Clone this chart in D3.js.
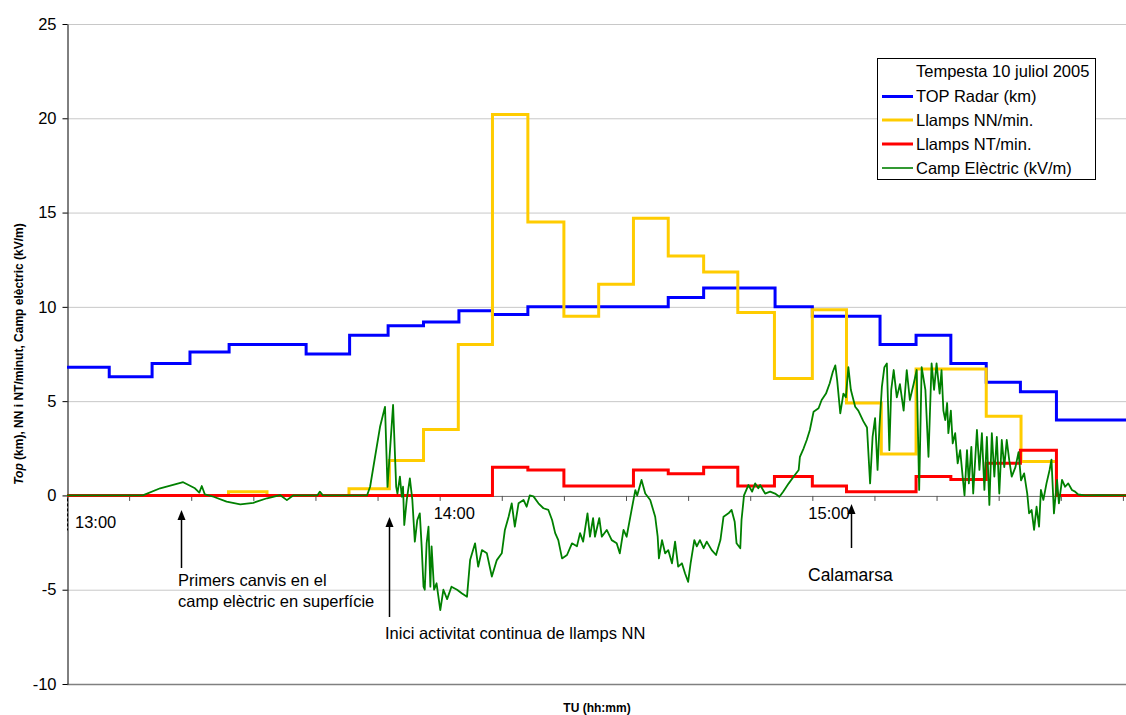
<!DOCTYPE html>
<html><head><meta charset="utf-8">
<script src="https://cdn.jsdelivr.net/npm/d3@7"></script>
<style>
body{margin:0;background:#fff}
text{font-family:"Liberation Sans",Arial,sans-serif}
</style></head>
<body><svg id="c" width="1126" height="715"></svg>
<script>
// ---- DATA (time in minutes after 13:00 TU) ----
const yTicks = [-10,-5,0,5,10,15,20,25];
const minuteTicks = [0,10,20,30,40,50,60,70,80,90,100,110,120,130,140,150,160,170];
const hourTimes = [0,60,120];
const hourLabels = ["13:00","14:00","15:00"];

const radarTime = [0,6.8,13.7,19.8,26.1,38.5,45.5,51.7,57.4,63.1,68.5,74.2,96.8,102.5,114.0,120.0,130.9,136.7,142.3,148.0,153.5,159.3,170.5];
const radarTop  = [6.8,6.3,7.0,7.6,8.0,7.5,8.5,9.0,9.2,9.8,9.6,10.0,10.5,11.0,10.0,9.5,8.0,8.5,7.0,6.0,5.5,4.0,4.0];

const nnTime = [0,26.0,32.2,45.4,51.9,57.4,63.0,68.5,74.2,80.0,85.6,91.2,96.8,102.5,108.0,113.9,120.0,125.5,131.1,136.7,148.0,153.6,159.3,170.5];
const nnRate = [0,0.2,0,0.35,1.85,3.5,8.0,20.2,14.5,9.5,11.2,14.7,12.7,11.85,9.7,6.2,9.85,4.9,2.2,6.7,4.2,1.8,0,0];

const ntTime = [0,68.5,74.2,80.0,91.2,96.8,102.5,108.0,113.9,120.0,125.5,136.7,142.3,148.0,153.5,159.3,170.5];
const ntRate = [0,1.5,1.35,0.5,1.35,1.15,1.5,0.5,1.0,0.5,0.2,1.0,0.85,1.7,2.4,0,0];

const fieldSamples = [[0,0],[12.2,0],[15.0,0.38],[18.7,0.7],[20.6,0.38],[21.3,0.15],[21.7,0.5],[22.2,0.05],[23.6,-0.07],[25.7,-0.33],[27.9,-0.47],[30.0,-0.39],[32.2,-0.15],[34.3,0.02],[35.4,-0.25],[36.4,0],[40.3,0],[40.7,0.2],[41.2,0],[48.3,0],[48.8,0.46],[49.6,2.05],[50.4,3.64],[51.2,4.7],[51.6,0.45],[52.5,4.8],[53.0,0.45],[53.2,0.1],[53.6,1.0],[53.9,-0.07],[54.1,0.46],[54.3,-1.57],[54.7,-0.24],[55.2,0.9],[55.6,-0.24],[56.0,-2.45],[56.4,-1.3],[56.8,-0.95],[57.1,-2.7],[57.4,-4.84],[57.6,-5.0],[57.9,-2.54],[58.2,-1.66],[58.5,-4.84],[58.7,-2.7],[59.1,-5.0],[59.5,-4.66],[60.1,-6.08],[60.6,-5.0],[61.2,-5.5],[61.9,-4.84],[62.8,-5.0],[63.6,-5.2],[64.4,-5.37],[64.9,-3.43],[65.7,-2.54],[66.2,-3.78],[66.8,-2.9],[67.6,-3.07],[68.4,-4.3],[69.2,-3.43],[70.0,-3.07],[70.5,-1.83],[71.1,-1.13],[71.6,-0.42],[72.1,-1.66],[72.7,-0.42],[73.5,-0.24],[74.0,-0.6],[74.5,0],[75.1,-0.05],[75.9,-0.42],[76.7,-0.68],[77.5,-0.77],[78.1,-1.3],[78.6,-2.0],[79.1,-2.37],[79.7,-3.34],[80.5,-3.16],[81.3,-2.54],[82.1,-2.7],[82.6,-2.0],[83.1,-2.45],[83.8,-0.95],[84.2,-2.19],[84.7,-1.2],[85.0,-2.19],[85.7,-1.2],[86.1,-2.19],[86.9,-1.83],[87.7,-2.37],[88.5,-2.54],[89.0,-3.07],[89.6,-1.83],[90.1,-2.19],[90.9,-0.77],[91.5,0.28],[91.8,0],[92.5,0.82],[93.1,0.1],[93.9,-0.24],[94.7,-1.13],[95.1,-2.19],[95.3,-3.34],[95.8,-2.37],[96.3,-3.07],[96.8,-2.9],[97.4,-3.6],[97.9,-2.45],[98.4,-3.78],[99.0,-3.6],[99.5,-4.13],[100.0,-4.58],[100.4,-3.6],[101.0,-2.37],[101.4,-2.7],[101.9,-2.37],[102.5,-2.8],[103.0,-2.45],[103.8,-2.9],[104.5,-3.16],[105.2,-2.37],[105.7,-1.13],[106.5,-0.95],[107.0,-0.77],[107.5,-1.4],[107.8,-2.54],[108.4,-2.8],[108.6,-1.3],[109.0,0],[109.7,0.55],[110.3,0.2],[110.8,0.64],[111.3,0.38],[111.6,0.55],[112.4,0.1],[113.2,0.2],[114.0,0.1],[114.7,-0.07],[115.3,0.2],[116.2,0.64],[117.0,1.0],[117.8,1.35],[118.0,2.05],[118.6,2.5],[119.1,2.94],[119.6,3.47],[120.2,4.44],[121.0,4.62],[121.5,5.06],[122.2,5.4],[122.8,5.95],[123.3,6.56],[123.7,6.9],[124.0,6.1],[124.5,4.35],[125.0,5.4],[125.4,5.2],[125.8,6.8],[126.2,5.6],[126.9,4.7],[127.4,4.5],[128.2,3.94],[128.8,3.6],[129.3,0.64],[129.7,3.1],[130.1,4.1],[130.5,1.35],[130.8,3.6],[131.2,5.77],[131.6,6.8],[132.0,7.0],[132.4,2.4],[132.7,5.6],[133.1,6.65],[133.6,5.2],[134.1,5.9],[134.7,4.5],[135.2,6.65],[135.7,5.06],[136.3,5.9],[136.8,6.65],[137.2,0.29],[137.6,6.8],[138.2,5.6],[138.7,2.05],[139.2,7.0],[139.6,5.6],[140.0,7.0],[140.5,5.4],[140.8,6.65],[141.1,4.5],[141.4,4.0],[141.7,4.9],[141.9,3.3],[142.3,4.5],[142.6,2.76],[143.0,3.3],[143.4,1.7],[143.8,2.4],[144.2,1.0],[144.5,0],[144.9,2.4],[145.2,0.64],[145.6,2.58],[145.9,0.1],[146.5,3.47],[146.9,1.35],[147.3,3.3],[147.7,0.29],[148.1,3.1],[148.5,-0.5],[148.9,3.3],[149.3,1.0],[149.7,3.1],[150.1,0.1],[150.5,2.94],[150.9,1.5],[151.3,2.94],[151.7,1.87],[152.1,1.0],[152.7,1.5],[153.2,2.3],[153.6,0.8],[154.1,1.17],[154.6,0.1],[154.9,-0.95],[155.3,-0.77],[155.7,-1.83],[156.1,-0.6],[156.5,-1.66],[156.8,0.29],[157.2,-0.24],[157.7,0.64],[158.2,1.35],[158.5,1.9],[158.9,-0.95],[159.4,0.82],[159.7,-0.42],[160.2,0.82],[160.7,0.46],[161.2,0.64],[161.8,0.29],[162.3,0.2],[162.8,0.05],[163.9,0],[166.3,0.02],[170.5,0]];

const legendTitle = "Tempesta 10 juliol 2005";
const seriesNames = ["TOP Radar (km)","Llamps NN/min.","Llamps NT/min.","Camp Elèctric (kV/m)"];
const annotTimes = [18.3, 51.9, 126.2];
const annotTexts = [["Primers canvis en el","camp elèctric en superfície"],["Inici activitat continua de llamps NN"],["Calamarsa"]];

// ---- CHART ----
const FS = 16.5;
const svg = d3.select("#c");
svg.append("rect").attr("width",1126).attr("height",715).attr("fill","#fff");
const x = d3.scaleLinear().domain([0,170.5]).range([67,1126]);
const y = d3.scaleLinear().domain([-10,25]).range([684,24]);

// gridlines
svg.append("g").selectAll("line").data(yTicks.filter(v=>v!==0 && v!==-10)).join("line")
  .attr("x1",67).attr("x2",1126).attr("y1",d=>y(d)+0.5).attr("y2",d=>y(d)+0.5)
  .attr("stroke","#c8c8c8").attr("stroke-width",1);
svg.append("line").attr("x1",67).attr("x2",1126).attr("y1",y(-10)+0.5).attr("y2",y(-10)+0.5)
  .attr("stroke","#808080").attr("stroke-width",1.5);

// y axis
const ya = svg.append("g").attr("transform","translate(67.5,0)")
  .call(d3.axisLeft(y).tickValues(yTicks).tickSize(5).tickSizeOuter(0).tickPadding(6).tickFormat(d=>String(d)));
ya.select(".domain").attr("stroke","#000");
ya.selectAll(".tick line").attr("stroke","#000");
ya.selectAll(".tick text").attr("font-size",FS).attr("fill","#000").attr("font-family","Liberation Sans, Arial, sans-serif");

// x axis at 0
const xa = svg.append("g").attr("transform",`translate(0,${y(0)+0.5})`)
  .call(d3.axisBottom(x).tickValues(minuteTicks).tickSize(5).tickSizeOuter(0).tickFormat(""));
xa.select(".domain").attr("stroke","#707070");
xa.selectAll(".tick line").attr("stroke","#505050");

// dashed stub under origin
svg.append("line").attr("x1",67.5).attr("x2",67.5).attr("y1",y(0)+3).attr("y2",y(0)+35)
  .attr("stroke","#000").attr("stroke-dasharray","3,2");

// hour labels
const hourDx = [8,-6,-4], hourY = [528,518.5,518.5];
svg.append("g").selectAll("text").data(hourLabels).join("text")
  .attr("x",(d,i)=>x(hourTimes[i])+hourDx[i]).attr("y",(d,i)=>hourY[i])
  .attr("font-size",FS).attr("fill","#000").text(d=>d);

// series
const toPts = (ts,vs)=>ts.map((t,i)=>({t:t,v:vs[i]}));
const stepLine = d3.line().x(d=>x(d.t)).y(d=>y(d.v)).curve(d3.curveStepAfter);
const plainLine = d3.line().x(d=>x(d[0])).y(d=>y(d[1]));
const colors = ["#0000ff","#ffcc00","#ff0000","#008000"];

svg.append("path").attr("d",stepLine(toPts(radarTime,radarTop))).attr("fill","none").attr("stroke",colors[0]).attr("stroke-width",3);
svg.append("path").attr("d",stepLine(toPts(nnTime,nnRate))).attr("fill","none").attr("stroke",colors[1]).attr("stroke-width",3);
svg.append("path").attr("d",stepLine(toPts(ntTime,ntRate))).attr("fill","none").attr("stroke",colors[2]).attr("stroke-width",3);
svg.append("path").attr("d",plainLine(fieldSamples)).attr("fill","none").attr("stroke",colors[3]).attr("stroke-width",1.8).attr("stroke-linejoin","round");

// annotations
const arrowTop = [510,517,504], arrowBottom = [568,617,548];
annotTimes.forEach((t,i)=>{
  const ax = Math.round(x(t))+0.5;
  svg.append("line").attr("x1",ax).attr("x2",ax).attr("y1",arrowTop[i]+8).attr("y2",arrowBottom[i]).attr("stroke","#000").attr("stroke-width",1.5);
  svg.append("path").attr("d",`M${ax},${arrowTop[i]} L${ax-4},${arrowTop[i]+10} L${ax+4},${arrowTop[i]+10} Z`).attr("fill","#000");
});
const annotPos = [{x:178,y:586,fs:FS,lh:20.5},{x:385,y:639,fs:FS,lh:20},{x:808,y:581,fs:17.5,lh:20}];
annotTexts.forEach((lines,i)=>{
  const p = annotPos[i];
  const t = svg.append("text").attr("x",p.x).attr("y",p.y).attr("font-size",p.fs).attr("fill","#000");
  lines.forEach((ln,j)=>t.append("tspan").attr("x",p.x).attr("dy",j===0?0:p.lh).text(ln));
});

// axis titles
const yt = svg.append("text").attr("transform","translate(23,354) rotate(-90)").attr("text-anchor","middle")
  .attr("font-size",12).attr("font-weight","bold").attr("fill","#000");
yt.append("tspan").attr("font-style","italic").text("Top");
yt.append("tspan").text(" (km), NN i NT/minut, Camp elèctric (kV/m)");
svg.append("text").attr("x",597).attr("y",712).attr("text-anchor","middle").attr("font-size",12)
  .attr("font-weight","bold").attr("fill","#000").text("TU (hh:mm)");

// legend
const lg = svg.append("g");
lg.append("rect").attr("x",877.5).attr("y",58.5).attr("width",218).attr("height",121).attr("fill","#fff").attr("stroke","#000").attr("stroke-width",1);
lg.append("text").attr("x",916).attr("y",77).attr("font-size",FS).attr("fill","#000").text(legendTitle);
const legY = [96.5,120,144,168];
seriesNames.forEach((nm,i)=>{
  lg.append("line").attr("x1",882).attr("x2",913).attr("y1",legY[i]).attr("y2",legY[i]).attr("stroke",colors[i]).attr("stroke-width",i===3?1.6:3);
  lg.append("text").attr("x",916).attr("y",legY[i]+5.7).attr("font-size",FS).attr("fill","#000").text(nm);
});
</script></body></html>
